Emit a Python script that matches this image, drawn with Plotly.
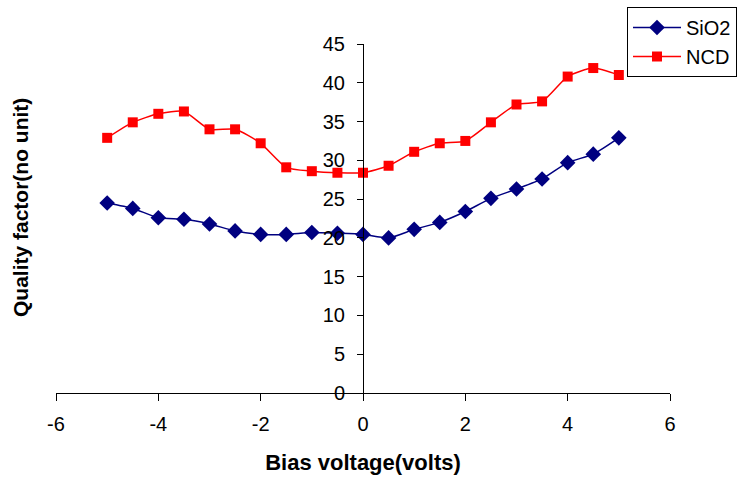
import plotly.graph_objects as go

# Bias voltage sweep (volts)
bias_v = [-5, -4.5, -4, -3.5, -3, -2.5, -2, -1.5, -1, -0.5, 0,
          0.5, 1, 1.5, 2, 2.5, 3, 3.5, 4, 4.5, 5]

# Quality factor for each resonator coating
q_sio2 = [24.5, 23.8, 22.6, 22.4, 21.8, 20.9, 20.45, 20.45, 20.7, 20.6, 20.45,
          20.0, 21.1, 22.0, 23.4, 25.1, 26.3, 27.6, 29.7, 30.8, 32.9]
q_ncd = [32.9, 34.9, 36.0, 36.3, 34.0, 34.0, 32.2, 29.1, 28.6, 28.4, 28.4,
         29.3, 31.1, 32.2, 32.5, 34.9, 37.2, 37.6, 40.8, 41.9, 41.0]

x_ticks = [-6, -4, -2, 0, 2, 4, 6]
x_tick_text = ["-6", "-4", "-2", "0", "2", "4", "6"]
y_ticks = [0, 5, 10, 15, 20, 25, 30, 35, 40, 45]

font_family = "Arial, Liberation Sans, sans-serif"

fig = go.Figure()
fig.add_trace(go.Scatter(
    x=bias_v, y=q_sio2, name="SiO2", mode="lines+markers",
    line=dict(color="#000080", width=1.5, shape="spline", smoothing=0.6),
    marker=dict(symbol="diamond", size=12, color="#000080"),
))
fig.add_trace(go.Scatter(
    x=bias_v, y=q_ncd, name="NCD", mode="lines+markers",
    line=dict(color="#FF0000", width=1.5, shape="spline", smoothing=0.6),
    marker=dict(symbol="square", size=10, color="#FF0000"),
))

fig.update_layout(
    width=744, height=483,
    margin=dict(l=56, r=74, t=44, b=90, autoexpand=False),
    paper_bgcolor="white", plot_bgcolor="white",
    font=dict(family=font_family, size=20, color="black"),
    showlegend=True,
    legend=dict(
        xref="container", yref="container",
        x=627 / 744, y=1 - 7 / 483, xanchor="left", yanchor="top",
        bordercolor="black", borderwidth=1, bgcolor="white",
        font=dict(size=20), tracegroupgap=0, itemwidth=48,
    ),
    xaxis=dict(
        range=[-6, 6], tickvals=x_ticks, ticktext=x_tick_text,
        ticks="outside", ticklen=7, ticklabelstandoff=6,
        tickcolor="black", showline=True, linecolor="black", linewidth=1,
        showgrid=False, zeroline=False,
        title=dict(text="<b>Bias voltage(volts)</b>", font=dict(size=22), standoff=20),
    ),
    yaxis=dict(
        range=[0, 45], tickvals=y_ticks, ticks="outside", ticklen=6,
        ticklabelstandoff=8,
        tickcolor="black", showline=True, linecolor="black", linewidth=1,
        showgrid=False, zeroline=False,
        anchor="free", position=0.5,
    ),
    annotations=[dict(
        text="<b>Quality factor(no unit)</b>", textangle=-90,
        xref="paper", yref="paper", x=-36 / 614, y=0.53,
        xanchor="center", yanchor="middle", showarrow=False,
        font=dict(size=21),
    )],
)

fig.write_html("out.html")
